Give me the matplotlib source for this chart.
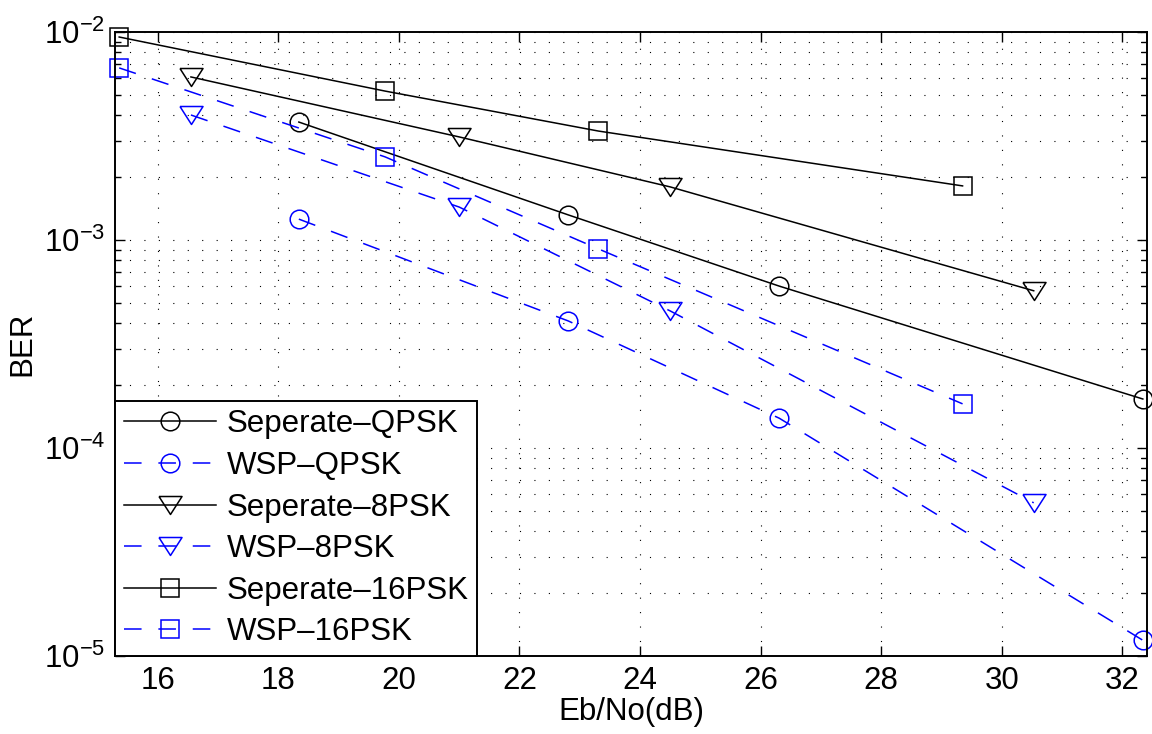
import numpy as np
import matplotlib
matplotlib.use("Agg")
import matplotlib.pyplot as plt
from matplotlib.ticker import LogLocator, NullFormatter, FixedLocator

plt.rcParams['font.family'] = ['Liberation Sans', 'DejaVu Sans']
plt.rcParams['mathtext.fontset'] = 'custom'
plt.rcParams['mathtext.rm'] = 'Liberation Sans'
plt.rcParams['mathtext.it'] = 'Liberation Sans:italic'
plt.rcParams['mathtext.bf'] = 'Liberation Sans:bold'

# Eb/No (dB) for each modulation
x_qpsk = [18.34, 22.81, 26.31, 32.34]
x_8psk = [16.55, 21.00, 24.50, 30.53]
x_16psk = [15.36, 19.77, 23.31, 29.35]

# BER values
ber_sep_qpsk = [3.69e-3, 1.32e-3, 6.0e-4, 1.72e-4]
ber_wsp_qpsk = [1.26e-3, 4.08e-4, 1.39e-4, 1.19e-5]
ber_sep_8psk = [6.08e-3, 3.13e-3, 1.80e-3, 5.7e-4]
ber_wsp_8psk = [3.99e-3, 1.44e-3, 4.56e-4, 5.45e-5]
ber_sep_16psk = [9.46e-3, 5.2e-3, 3.34e-3, 1.82e-3]
ber_wsp_16psk = [6.72e-3, 2.51e-3, 9.06e-4, 1.63e-4]

labels = ['Seperate\u2013QPSK', 'WSP\u2013QPSK', 'Seperate\u20138PSK',
          'WSP\u20138PSK', 'Seperate\u201316PSK', 'WSP\u201316PSK']
x_ticks = [16, 18, 20, 22, 24, 26, 28, 30, 32]

FS = 22.5
tri = [(-1, 0.78), (1, 0.78), (0, -0.78), (-1, 0.78)]

fig = plt.figure(figsize=(11.52, 7.34), dpi=100)
ax = fig.add_axes([0.0998, 0.1063, 0.8959, 0.8501])

solid = dict(color='k', lw=1.1, mfc='none', mew=1.1, clip_on=False)
dash = dict(color='b', lw=1.1, mfc='none', mew=1.1, clip_on=False, dashes=(11.5, 11))

ax.semilogy(x_qpsk, ber_sep_qpsk, marker='o', ms=13.4, label=labels[0], **solid)
ax.semilogy(x_qpsk, ber_wsp_qpsk, marker='o', ms=13.4, label=labels[1], **dash)
ax.semilogy(x_8psk, ber_sep_8psk, marker=tri, ms=16.6, label=labels[2], **solid)
ax.semilogy(x_8psk, ber_wsp_8psk, marker=tri, ms=16.6, label=labels[3], **dash)
ax.semilogy(x_16psk, ber_sep_16psk, marker='s', ms=12.5, label=labels[4], **solid)
ax.semilogy(x_16psk, ber_wsp_16psk, marker='s', ms=12.5, label=labels[5], **dash)

ax.set_xlim(15.29, 32.41)
ax.set_ylim(1e-5, 1e-2)
ax.xaxis.set_major_locator(FixedLocator(x_ticks))
ax.xaxis.set_minor_locator(FixedLocator([]))
ax.yaxis.set_major_locator(LogLocator(base=10, numticks=10))
ax.yaxis.set_minor_locator(LogLocator(base=10, subs=np.arange(2, 10), numticks=20))
ax.yaxis.set_minor_formatter(NullFormatter())

ax.tick_params(which='both', direction='in', top=True, right=True,
               labelsize=FS, width=1.0)
ax.tick_params(which='major', length=7, pad=7)
ax.tick_params(which='minor', length=4)
for s in ax.spines.values():
    s.set_linewidth(1.4)

grid_style = dict(color='k', lw=0.8, linestyle=(0, (1, 12)))
ax.grid(True, which='major', axis='both', **grid_style)
ax.grid(True, which='minor', axis='y', **grid_style)

ax.set_xlabel('Eb/No(dB)', fontsize=FS, labelpad=1)
ax.set_ylabel('BER', fontsize=FS, labelpad=5)

leg = ax.legend(loc='lower left', bbox_to_anchor=(0, 0), borderaxespad=0,
                fontsize=FS, numpoints=1, handlelength=2.94, handletextpad=0.35,
                borderpad=0.28, labelspacing=0.37, fancybox=False,
                framealpha=1, edgecolor='k')
leg.get_frame().set_linewidth(1.4)

fig.savefig('out.png', dpi=100)
